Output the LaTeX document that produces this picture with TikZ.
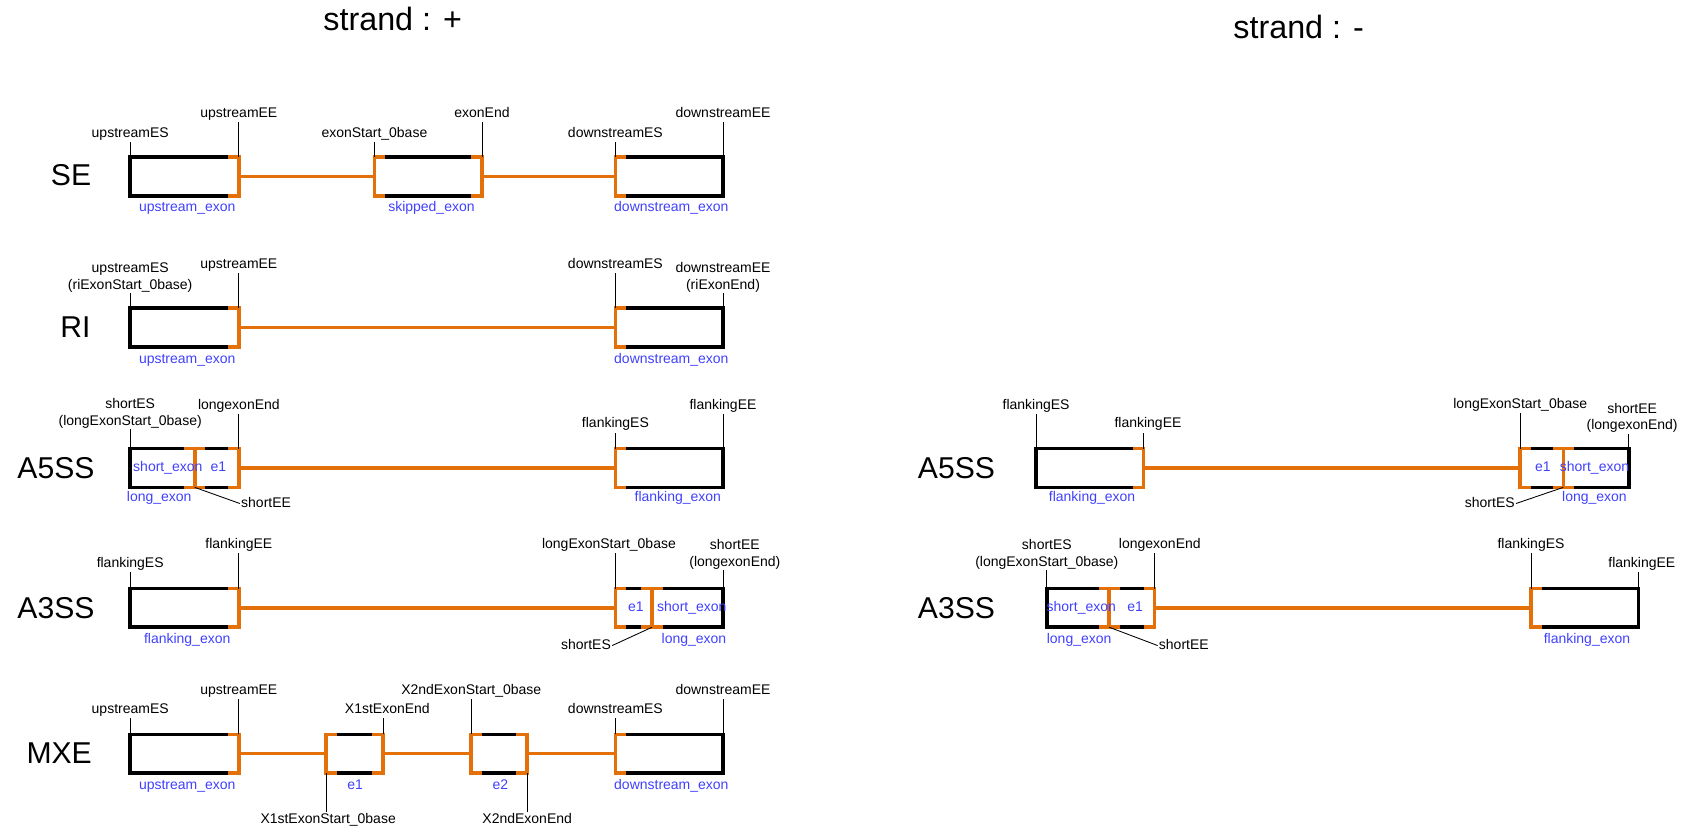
\documentclass[tikz,border=0pt]{standalone}
\usepackage{fontspec}
\setmainfont{Liberation Sans}
\usepackage{xcolor}
\usepackage{tikz}
\usetikzlibrary{positioning}
\definecolor{hlorange}{RGB}{228,112,10}
\definecolor{hlblue}{RGB}{64,64,255}

\newcommand{\jleft}[1]{\draw[junc] ([xshift=10pt]#1.north west) -- (#1.north west) -- (#1.south west) -- ([xshift=10pt]#1.south west);}
\newcommand{\jright}[1]{\draw[junc] ([xshift=-10pt]#1.north east) -- (#1.north east) -- (#1.south east) -- ([xshift=-10pt]#1.south east);}
\newcommand{\jmid}[2]{%
  \coordinate (#1top) at ([xshift=#2pt]#1.north west);
  \coordinate (#1bot) at ([xshift=#2pt]#1.south west);
  \draw[junc] ([xshift=-10pt]#1top) -- ([xshift=10pt]#1top) (#1top) -- (#1bot) ([xshift=-10pt]#1bot) -- ([xshift=10pt]#1bot);}

\begin{document}
\begin{tikzpicture}[x=1pt,y=-1pt,
  exonbox/.style={draw,line width=3.3pt,inner sep=0pt,outer sep=0pt,minimum height=36pt},
  junc/.style={draw=hlorange,line width=3.3pt},
  tick/.style={line width=0.8pt},
  poslbl/.style={font=\fontsize{13}{15}\selectfont,inner sep=1pt,text height=10pt,text depth=3pt},
  poslbltwo/.style={font=\fontsize{13}{15}\selectfont,inner sep=1pt,align=center},
  exname/.style={font=\fontsize{13}{15}\selectfont,text=hlblue,inner sep=1pt,text height=10pt,text depth=3pt},
  evt/.style={font=\fontsize{28}{30}\selectfont},
  strandlbl/.style={font=\fontsize{30}{32}\selectfont}]
\useasboundingbox (0,0) rectangle (1568,774);

\node[strandlbl] (plusT) at (365,18) {strand : +};
\node[strandlbl] (minusT) at (1207,25) {strand : -};

\node[evt] (seT) at (66,163) {SE};
\node[evt] (riT) at (70,304) {RI};
\node[evt] (a5pT) at (52,435) {A5SS};
\node[evt] (a3pT) at (52,565) {A3SS};
\node[evt] (mxT) at (55,700) {MXE};
\node[evt] (a5mT) at (889,435) {A5SS};
\node[evt] (a3mT) at (889,565) {A3SS};

\node[exonbox,minimum width=101pt] (seU) at (171.5,164) {};
\node[exonbox,minimum width=100pt] (seS) at (398,164) {};
\node[exonbox,minimum width=100pt] (seD) at (622,164) {};
\draw[junc] (seU.east) -- (seS.west) (seS.east) -- (seD.west);
\jright{seU} \jleft{seS} \jright{seS} \jleft{seD}

\node[exonbox,minimum width=101pt] (riU) at (171.5,304.5) {};
\node[exonbox,minimum width=100pt] (riD) at (622,304.5) {};
\draw[junc] (riU.east) -- (riD.west);
\jright{riU} \jleft{riD}

\node[exonbox,minimum width=101pt] (a5pL) at (171.5,435) {};
\node[exonbox,minimum width=100pt] (a5pF) at (622,435) {};
\draw[junc] (a5pL.east) -- (a5pF.west);
\jmid{a5pL}{60} \jright{a5pL} \jleft{a5pF}

\node[exonbox,minimum width=101pt] (a3pF) at (171.5,565) {};
\node[exonbox,minimum width=100pt] (a3pL) at (622,565) {};
\draw[junc] (a3pF.east) -- (a3pL.west);
\jright{a3pF} \jleft{a3pL} \jmid{a3pL}{34}

\node[exonbox,minimum width=101pt] (mxU) at (171.5,700.5) {};
\node[exonbox,minimum width=53pt] (mxA) at (329.5,700.5) {};
\node[exonbox,minimum width=52pt] (mxB) at (464,700.5) {};
\node[exonbox,minimum width=100pt] (mxD) at (622,700.5) {};
\draw[junc] (mxU.east) -- (mxA.west) (mxA.east) -- (mxB.west) (mxB.east) -- (mxD.west);
\jright{mxU} \jleft{mxA} \jright{mxA} \jleft{mxB} \jright{mxB} \jleft{mxD}

\node[exonbox,minimum width=100pt] (a5mF) at (1013,435) {};
\node[exonbox,minimum width=101pt] (a5mL) at (1463.5,435) {};
\draw[junc] (a5mF.east) -- (a5mL.west);
\jright{a5mF} \jleft{a5mL} \jmid{a5mL}{40}

\node[exonbox,minimum width=100pt] (a3mL) at (1023,565) {};
\node[exonbox,minimum width=100pt] (a3mF) at (1473,565) {};
\draw[junc] (a3mL.east) -- (a3mF.west);
\jmid{a3mL}{58} \jright{a3mL} \jleft{a3mF}

\node[poslbl, above=14pt of seU.north west] (seUes) {upstreamES};
\node[poslbl, above=33pt of seU.north east] (seUee) {upstreamEE};
\node[poslbl, above=14pt of seS.north west] (seSes) {exonStart\_0base};
\node[poslbl, above=33pt of seS.north east] (seSee) {exonEnd};
\node[poslbl, above=14pt of seD.north west] (seDes) {downstreamES};
\node[poslbl, above=33pt of seD.north east] (seDee) {downstreamEE};

\node[poslbltwo, above=14pt of riU.north west] (riUes) {upstreamES\\(riExonStart\_0base)};
\node[poslbl, above=33pt of riU.north east] (riUee) {upstreamEE};
\node[poslbl, above=33pt of riD.north west] (riDes) {downstreamES};
\node[poslbltwo, above=14pt of riD.north east] (riDee) {downstreamEE\\(riExonEnd)};

\node[poslbltwo, above=18pt of a5pL.north west] (a5pLes) {shortES\\(longExonStart\_0base)};
\node[poslbl, above=32pt of a5pL.north east] (a5pLee) {longexonEnd};
\node[poslbl, above=15pt of a5pF.north west] (a5pFes) {flankingES};
\node[poslbl, above=32pt of a5pF.north east] (a5pFee) {flankingEE};

\node[poslbl, above=15pt of a3pF.north west] (a3pFes) {flankingES};
\node[poslbl, above=33pt of a3pF.north east] (a3pFee) {flankingEE};
\node[poslbl, above=33pt of a3pL.north west, xshift=-6pt] (a3pLes) {longExonStart\_0base};
\node[poslbltwo, above=17pt of a3pL.north east, xshift=11pt] (a3pLee) {shortEE\\(longexonEnd)};

\node[poslbl, above=15pt of mxU.north west] (mxUes) {upstreamES};
\node[poslbl, above=33pt of mxU.north east] (mxUee) {upstreamEE};
\node[poslbl, above=15pt of mxA.north east, xshift=4pt] (mxAee) {X1stExonEnd};
\node[poslbl, above=33pt of mxB.north west] (mxBes) {X2ndExonStart\_0base};
\node[poslbl, above=15pt of mxD.north west] (mxDes) {downstreamES};
\node[poslbl, above=33pt of mxD.north east] (mxDee) {downstreamEE};
\node[poslbl, below=36pt of mxA.south west, xshift=2pt] (mxAes) {X1stExonStart\_0base};
\node[poslbl, below=36pt of mxB.south east] (mxBee) {X2ndExonEnd};

\node[poslbl, above=32pt of a5mF.north west] (a5mFes) {flankingES};
\node[poslbl, above=15pt of a5mF.north east, xshift=4pt] (a5mFee) {flankingEE};
\node[poslbl, above=33pt of a5mL.north west] (a5mLes) {longExonStart\_0base};
\node[poslbltwo, above=14pt of a5mL.north east, xshift=3pt] (a5mLee) {shortEE\\(longexonEnd)};

\node[poslbltwo, above=17pt of a3mL.north west] (a3mLes) {shortES\\(longExonStart\_0base)};
\node[poslbl, above=33pt of a3mL.north east, xshift=5pt] (a3mLee) {longexonEnd};
\node[poslbl, above=33pt of a3mF.north west] (a3mFes) {flankingES};
\node[poslbl, above=15pt of a3mF.north east, xshift=3pt] (a3mFee) {flankingEE};

\foreach \c/\l in {seU.north west/seUes, seU.north east/seUee, seS.north west/seSes,
  seS.north east/seSee, seD.north west/seDes, seD.north east/seDee,
  riU.north west/riUes, riU.north east/riUee, riD.north west/riDes, riD.north east/riDee,
  a5pL.north west/a5pLes, a5pL.north east/a5pLee, a5pF.north west/a5pFes, a5pF.north east/a5pFee,
  a3pF.north west/a3pFes, a3pF.north east/a3pFee, a3pL.north west/a3pLes, a3pL.north east/a3pLee,
  mxU.north west/mxUes, mxU.north east/mxUee, mxA.north east/mxAee, mxB.north west/mxBes,
  mxD.north west/mxDes, mxD.north east/mxDee,
  a5mF.north west/a5mFes, a5mF.north east/a5mFee, a5mL.north west/a5mLes, a5mL.north east/a5mLee,
  a3mL.north west/a3mLes, a3mL.north east/a3mLee, a3mF.north west/a3mFes, a3mF.north east/a3mFee}
  \draw[tick] (\c) -- (\c |- \l.south);
\draw[tick] (mxA.south west) -- (mxA.south west |- mxAes.north);
\draw[tick] (mxB.south east) -- (mxB.south east |- mxBee.north);

\node[poslbl, anchor=west] (a5pSee) at (223,468) {shortEE};
\node[poslbl, anchor=east] (a3pSes) at (569,600) {shortES};
\node[poslbl, anchor=east] (a5mSes) at (1409,468) {shortES};
\node[poslbl, anchor=west] (a3mSee) at (1076,600) {shortEE};
\draw[tick] (a5pLbot) -- (a5pSee.west);
\draw[tick] (a3pLbot) -- (a3pSes.east);
\draw[tick] (a5mLbot) -- (a5mSes.east);
\draw[tick] (a3mLbot) -- (a3mSee.west);

\node[exname] (seUn) at (174,193) {upstream\_exon};
\node[exname] (seSn) at (401,193) {skipped\_exon};
\node[exname] (seDn) at (624,193) {downstream\_exon};
\node[exname] (riUn) at (174,334) {upstream\_exon};
\node[exname] (riDn) at (624,334) {downstream\_exon};
\node[exname] (a5pSn) at (156,435) {short\_exon};
\node[exname] (a5pEn) at (203,435) {e1};
\node[exname] (a5pLn) at (148,463) {long\_exon};
\node[exname] (a5pFn) at (630,463) {flanking\_exon};
\node[exname] (a3pFn) at (174,595) {flanking\_exon};
\node[exname] (a3pEn) at (591,565) {e1};
\node[exname] (a3pSn) at (643,565) {short\_exon};
\node[exname] (a3pLn) at (645,595) {long\_exon};
\node[exname] (mxUn) at (174,730) {upstream\_exon};
\node[exname] (mxAn) at (330,730) {e1};
\node[exname] (mxBn) at (465,730) {e2};
\node[exname] (mxDn) at (624,730) {downstream\_exon};
\node[exname] (a5mFn) at (1015,463) {flanking\_exon};
\node[exname] (a5mEn) at (1434,435) {e1};
\node[exname] (a5mSn) at (1482,435) {short\_exon};
\node[exname] (a5mLn) at (1482,463) {long\_exon};
\node[exname] (a3mSn) at (1005,565) {short\_exon};
\node[exname] (a3mEn) at (1055,565) {e1};
\node[exname] (a3mLn) at (1003,595) {long\_exon};
\node[exname] (a3mFn) at (1475,595) {flanking\_exon};
\end{tikzpicture}
\end{document}
